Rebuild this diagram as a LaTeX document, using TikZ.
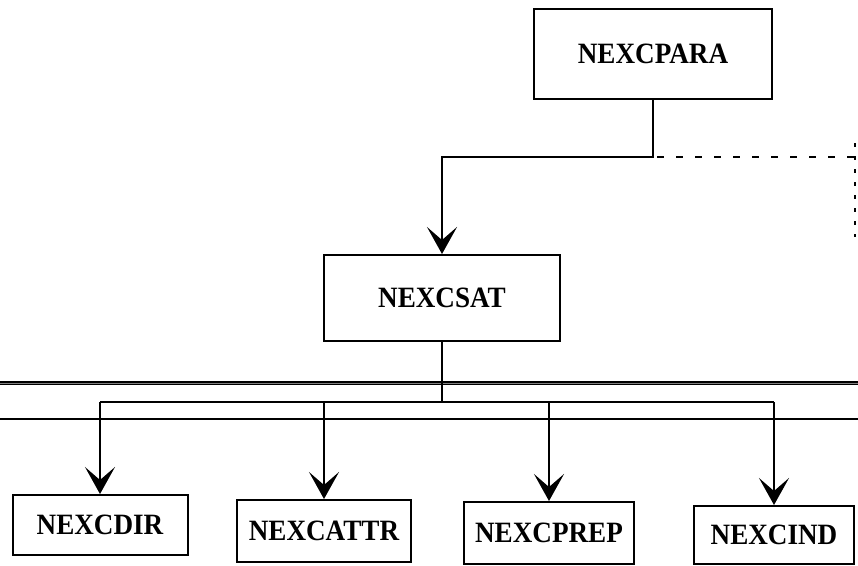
\documentclass[tikz,border=0pt]{standalone}
\usepackage{fontspec}
\setmainfont{Liberation Serif}
\newfontfamily\labfont{Liberation Serif}[FakeStretch=0.92]
\usetikzlibrary{arrows.meta}
\begin{document}
\begin{tikzpicture}[x=1pt,y=-1pt,
  box/.style={draw,line width=2pt,inner sep=0pt,font=\labfont\bfseries\fontsize{29.5}{34}\selectfont},
  conn/.style={line width=2pt},
  arr/.style={conn,-{Stealth[length=27pt,width=30pt,inset=13pt]}},
  dashline/.style={line width=2.2pt,dash pattern=on 7pt off 12pt},
  dotline/.style={line width=2.4pt,dash pattern=on 4pt off 9pt},
  rule/.style={line width=3.4pt}]
\useasboundingbox (0,0) rectangle (858,565);
\fill[white] (0,0) rectangle (858,565);
\node[box,minimum width=238pt,minimum height=90pt] (para) at (653,54) {NEXCPARA};
\node[box,minimum width=236pt,minimum height=86pt] (sat) at (442,298) {NEXCSAT};
\node[box,minimum width=175pt,minimum height=60pt] (dir) at (100,525) {NEXCDIR};
\node[box,minimum width=174pt,minimum height=62pt] (attr) at (324,531) {NEXCATTR};
\node[box,minimum width=170pt,minimum height=62pt] (prep) at (549,533) {NEXCPREP};
\node[box,minimum width=160pt,minimum height=58pt] (ind) at (774,535) {NEXCIND};
\coordinate (turn) at (653,157);
\coordinate (corner) at (855,157);
\coordinate (dotend) at (855,237);
\coordinate (br) at (442,402);
\draw[rule] (0,383) -- (858,383);
\draw[line width=1pt,gray] (0,383) -- (858,383);
\draw[line width=2.2pt] (0,419) -- (858,419);
\draw[arr] (para.south) -- (turn) -| (sat.north);
\draw[dashline] ([xshift=4pt]turn) -- (corner);
\draw[dotline] ([yshift=14pt]corner) -- (dotend);
\draw[conn] (sat.south) -- (br);
\draw[conn] (dir.north |- br) -- (ind.north |- br);
\foreach \n in {dir,attr,prep,ind}
  \draw[arr] (\n.north |- br) -- (\n.north);
\end{tikzpicture}
\end{document}
